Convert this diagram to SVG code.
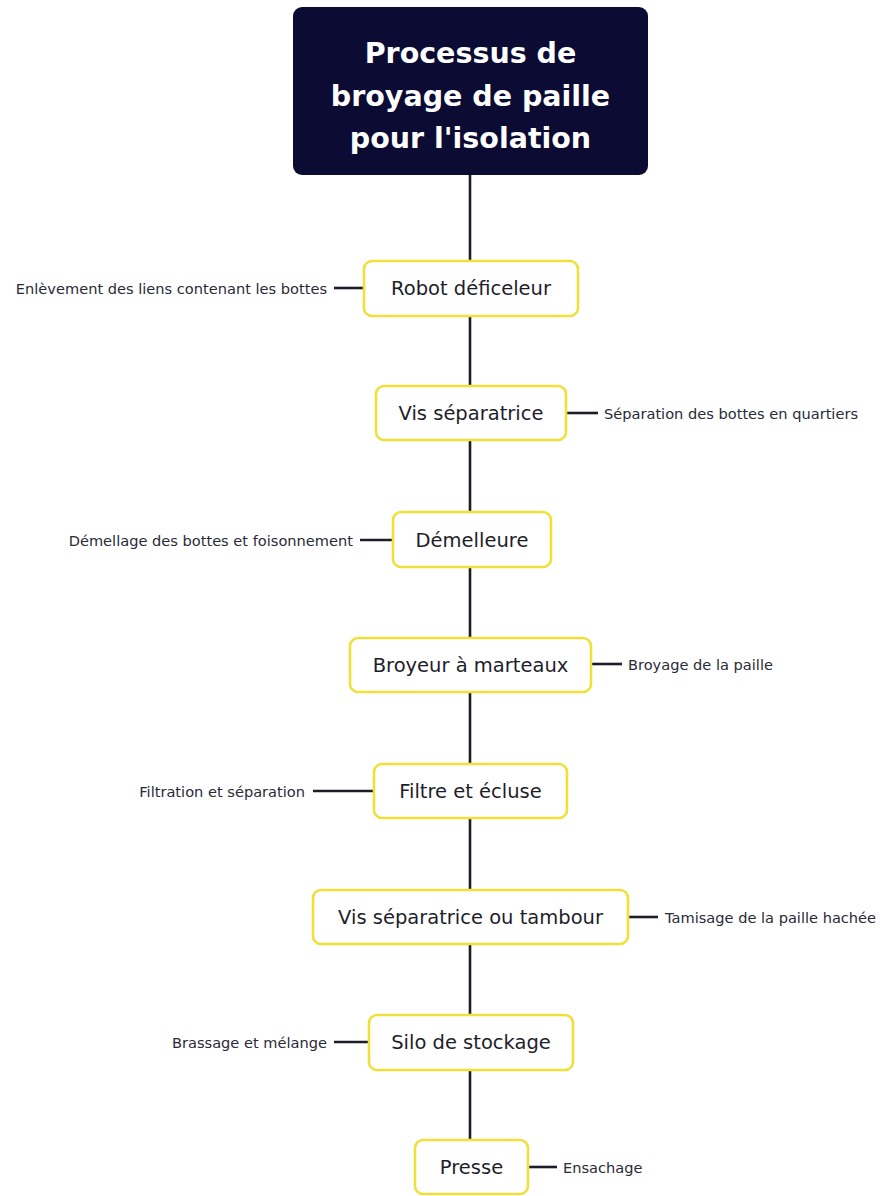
<svg xmlns="http://www.w3.org/2000/svg" width="883" height="1196" viewBox="0 0 883 1196">
<defs>
<style>
.line{stroke:#1c1c2b;stroke-width:2.6;fill:none}
.node rect{fill:#ffffff;stroke:#f1df3a;stroke-width:2.6}
.node text{font-family:"DejaVu Sans",sans-serif;font-size:19.5px;fill:#1e1e2a;text-anchor:middle;dominant-baseline:central}
.lbl{font-family:"DejaVu Sans",sans-serif;font-size:14.6px;fill:#2a2a38;dominant-baseline:central}
.title text{font-family:"DejaVu Sans",sans-serif;font-size:28.5px;font-weight:700;fill:#ffffff;text-anchor:middle}
</style>
</defs>
<rect width="883" height="1196" fill="#ffffff"/>
<g id="connectors">
<line class="line" x1="470" y1="175" x2="470" y2="1140"/>
<line class="line" x1="334" y1="288" x2="364" y2="288"/>
<line class="line" x1="566" y1="413" x2="598" y2="413"/>
<line class="line" x1="360" y1="540" x2="393" y2="540"/>
<line class="line" x1="591" y1="664" x2="622" y2="664"/>
<line class="line" x1="313" y1="791" x2="374" y2="791"/>
<line class="line" x1="628" y1="917" x2="658" y2="917"/>
<line class="line" x1="334" y1="1042" x2="369" y2="1042"/>
<line class="line" x1="528" y1="1167" x2="557" y2="1167"/>
</g>
<g id="title" class="title">
<rect x="293" y="7" width="355" height="168" rx="9" fill="#0b0b33"/>
<text x="470.5" y="63">Processus de</text>
<text x="470.5" y="106">broyage de paille</text>
<text x="470.5" y="148">pour l'isolation</text>
</g>
<g id="n1" class="node"><rect x="364" y="261" width="214" height="55" rx="8"/><text x="471" y="288.5">Robot déficeleur</text></g>
<g id="n2" class="node"><rect x="376" y="386" width="190" height="54" rx="8"/><text x="471" y="413">Vis séparatrice</text></g>
<g id="n3" class="node"><rect x="393" y="512" width="158" height="55" rx="8"/><text x="472" y="540">Démelleure</text></g>
<g id="n4" class="node"><rect x="350" y="638" width="241" height="54" rx="8"/><text x="470.5" y="665">Broyeur à marteaux</text></g>
<g id="n5" class="node"><rect x="374" y="764" width="193" height="54" rx="8"/><text x="470.5" y="791">Filtre et écluse</text></g>
<g id="n6" class="node"><rect x="313" y="890" width="315" height="54" rx="8"/><text x="470.5" y="917">Vis séparatrice ou tambour</text></g>
<g id="n7" class="node"><rect x="369" y="1015" width="204" height="55" rx="8"/><text x="471" y="1042">Silo de stockage</text></g>
<g id="n8" class="node"><rect x="415" y="1140" width="113" height="54" rx="8"/><text x="471.5" y="1167">Presse</text></g>
<g id="labels">
<text class="lbl" x="327" y="288" text-anchor="end">Enlèvement des liens contenant les bottes</text>
<text class="lbl" x="604" y="413">Séparation des bottes en quartiers</text>
<text class="lbl" x="353" y="540" text-anchor="end">Démellage des bottes et foisonnement</text>
<text class="lbl" x="628" y="664">Broyage de la paille</text>
<text class="lbl" x="305" y="791" text-anchor="end">Filtration et séparation</text>
<text class="lbl" x="665" y="917">Tamisage de la paille hachée</text>
<text class="lbl" x="327" y="1042" text-anchor="end">Brassage et mélange</text>
<text class="lbl" x="563" y="1167">Ensachage</text>
</g>
</svg>
